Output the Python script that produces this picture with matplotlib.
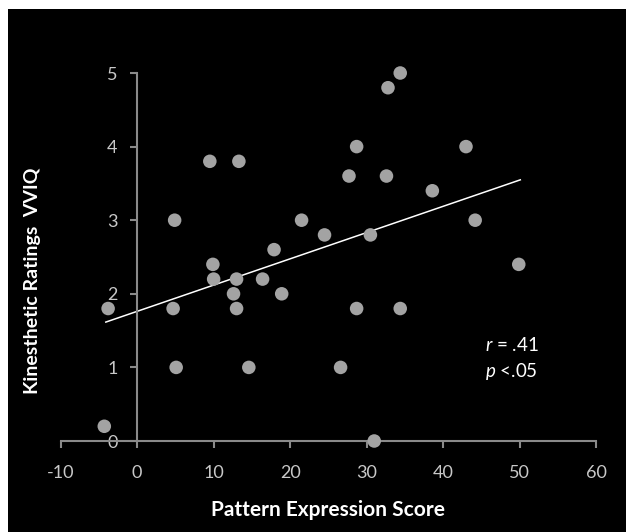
import matplotlib
matplotlib.use("Agg")
import matplotlib.pyplot as plt
from matplotlib.patches import Rectangle
import numpy as np

plt.rcParams['font.family'] = ['Lato', 'DejaVu Sans']
plt.rcParams['mathtext.fontset'] = 'custom'
plt.rcParams['mathtext.it'] = 'Lato:italic'
plt.rcParams['mathtext.rm'] = 'Lato'
plt.rcParams['axes.unicode_minus'] = False

# pattern expression score vs VVIQ kinesthetic rating
pattern_score = [-4.3, -3.8, 4.7, 4.9, 5.1, 9.5, 9.9, 10.0, 12.6, 13.0, 13.0,
                 13.3, 14.6, 16.4, 17.9, 18.9, 21.5, 24.5, 26.6, 27.7, 28.7,
                 28.7, 30.5, 31.0, 32.6, 32.8, 34.4, 34.4, 38.6, 43.0, 44.2, 49.9]
vviq_kin = [0.2, 1.8, 1.8, 3.0, 1.0, 3.8, 2.4, 2.2, 2.0, 2.2, 1.8,
            3.8, 1.0, 2.2, 2.6, 2.0, 3.0, 2.8, 1.0, 3.6, 4.0,
            1.8, 2.8, 0.0, 3.6, 4.8, 5.0, 1.8, 3.4, 4.0, 3.0, 2.4]
x_ticks = [-10, 0, 10, 20, 30, 40, 50, 60]
y_ticks = [0, 1, 2, 3, 4, 5]

axis_col = '#8a8a8a'
label_col = '#c8c8c8'

fig = plt.figure(figsize=(6.26, 5.32), dpi=100, facecolor='white')
# black panel, white strip only on top and left
fig.patches.append(Rectangle((8 / 626, 0), 1, 523 / 532, transform=fig.transFigure,
                             facecolor='black', edgecolor='none', zorder=-10))

ax = fig.add_axes([60.7 / 626, 91 / 532, 535.3 / 626, 368 / 532])
ax.set_facecolor('none')

ax.scatter(pattern_score, vviq_kin, s=95, color='#a3a3a3', edgecolors='none',
           zorder=3, clip_on=False)

# linear trend
k, b = np.polyfit(pattern_score, vviq_kin, 1)
xs = np.array([min(pattern_score) + 0.2, max(pattern_score) + 0.2])
ax.plot(xs, k * xs + b, color='white', lw=1.1, zorder=2)

ax.set_xlim(-10, 60)
ax.set_ylim(0, 5)
ax.set_xticks(x_ticks)
ax.set_yticks(y_ticks)

for s in ['top', 'right']:
    ax.spines[s].set_visible(False)
ax.spines['left'].set_position(('data', 0))
for s in ['left', 'bottom']:
    ax.spines[s].set_color(axis_col)
    ax.spines[s].set_linewidth(1.5)

ax.tick_params(axis='x', direction='out', length=5, width=1.5, color=axis_col,
               labelcolor=label_col, labelsize=13, pad=12)
ax.tick_params(axis='y', direction='out', length=5, width=1.5, color=axis_col,
               labelcolor=label_col, labelsize=13, pad=9)

ax.set_xlabel('Pattern Expression Score', color='white', fontsize=15,
              fontweight='bold', labelpad=14)
fig.text(33 / 626, 1 - 281 / 532, 'Kinesthetic Ratings  VVIQ', color='white',
         fontsize=14, fontweight='bold', rotation=90, ha='center', va='center')

ax.text(0.793, 0.261, '$r$ = .41', transform=ax.transAxes, color='white',
        fontsize=13.5, ha='left', va='center')
ax.text(0.793, 0.188, '$p$ <.05', transform=ax.transAxes, color='white',
        fontsize=13.5, ha='left', va='center')

fig.savefig('out.png', dpi=100, facecolor=fig.get_facecolor())
